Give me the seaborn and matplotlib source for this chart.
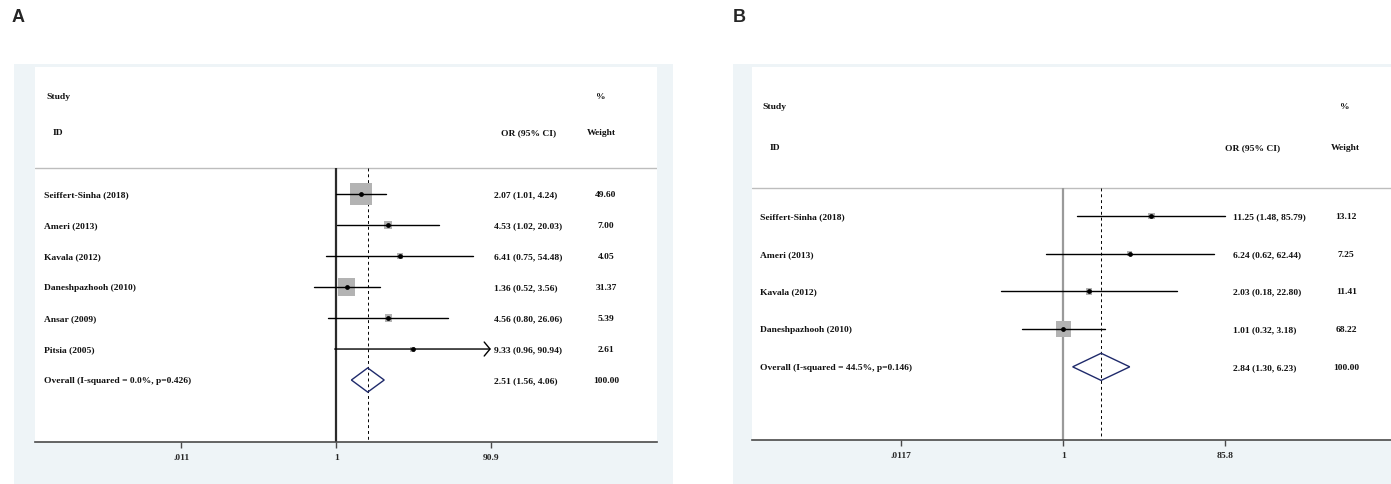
import numpy as np
import pandas as pd
import matplotlib
matplotlib.use("Agg")
import matplotlib.pyplot as plt
import seaborn as sns

# ---------------- data ----------------
# panel A
studies_a = ["Seiffert-Sinha (2018)", "Ameri (2013)", "Kavala (2012)",
             "Daneshpazhooh (2010)", "Ansar (2009)", "Pitsia (2005)"]
or_a = [2.07, 4.53, 6.41, 1.36, 4.56, 9.33]
lo_a = [1.01, 1.02, 0.75, 0.52, 0.80, 0.96]
hi_a = [4.24, 20.03, 54.48, 3.56, 26.06, 90.94]
w_a = [49.60, 7.00, 4.05, 31.37, 5.39, 2.61]
overall_a = [2.51, 1.56, 4.06]
overall_lab_a = "Overall (I-squared = 0.0%, p=0.426)"
ticks_a = [0.011, 1, 90.9]
ticklabs_a = [".011", "1", "90.9"]

# panel B
studies_b = ["Seiffert-Sinha (2018)", "Ameri (2013)", "Kavala (2012)",
             "Daneshpazhooh (2010)"]
or_b = [11.25, 6.24, 2.03, 1.01]
lo_b = [1.48, 0.62, 0.18, 0.32]
hi_b = [85.79, 62.44, 22.80, 3.18]
w_b = [13.12, 7.25, 11.41, 68.22]
overall_b = [2.84, 1.30, 6.23]
overall_lab_b = "Overall (I-squared = 44.5%, p=0.146)"
ticks_b = [0.0117, 1, 85.8]
ticklabs_b = [".0117", "1", "85.8"]

# ---------------- style ----------------
sns.set_theme(style="white")
plt.rcParams['font.family'] = ['Liberation Serif', 'DejaVu Serif']

W, H = 1391, 485
fig = plt.figure(figsize=(W / 100, H / 100), dpi=100)
fig.patch.set_facecolor("white")

BG = "#eef4f7"
FS = 6.8


def px_rect(x0, y0, x1, y1):
    # pixel box (top-left origin) -> figure fraction [l, b, w, h]
    return [x0 / W, 1 - y1 / H, (x1 - x0) / W, (y1 - y0) / H]


def draw_panel(box_bg, box_ax, xlim_dec, ylim, rows, studies, est, lo, hi, wts,
               overall, overall_lab, ticks, ticklabs, size_max, cols, null_col,
               diam_h, arrow_last=False):
    # light graph region behind the white plot region
    bg = fig.add_axes(px_rect(*box_bg), zorder=0)
    bg.set_facecolor(BG)
    bg.set_xticks([])
    bg.set_yticks([])
    for s in bg.spines.values():
        s.set_visible(False)

    ax = fig.add_axes(px_rect(*box_ax), zorder=1)
    ax.set_facecolor("white")
    ax.set_xscale("log")
    ax.set_xlim(10 ** xlim_dec[0], 10 ** xlim_dec[1])
    ax.set_ylim(*ylim)

    hdr_study, hdr_id, sep, r0 = rows
    n = len(studies)
    ys = [r0 + i for i in range(n)]
    y_ov = r0 + n
    bottom = ylim[0]

    df = pd.DataFrame({"study": studies, "est": est, "lo": lo, "hi": hi,
                       "w": wts, "y": ys})

    # separator and reference lines
    ax.axhline(sep, color="#bdbdbd", lw=1.0, zorder=1)
    ax.vlines(1, sep, bottom, color=null_col, lw=1.6, zorder=2)
    ax.vlines(overall[0], sep, bottom, color="black", lw=0.7,
              linestyles=(0, (3, 3)), zorder=2)

    # weight boxes (area ~ weight)
    sns.scatterplot(data=df, x="est", y="y", size="w", sizes=(0, size_max),
                    size_norm=(0, 100), marker="s", color="#b3b3b3",
                    linewidth=0, legend=False, ax=ax, zorder=3)

    # CI lines
    for i, r in df.iterrows():
        if arrow_last and i == n - 1:
            ax.annotate("", xy=(r.hi, r.y), xytext=(r.lo, r.y),
                        arrowprops=dict(arrowstyle="->,head_length=0.3,head_width=0.36",
                                        lw=1.0, color="black",
                                        shrinkA=0, shrinkB=0,
                                        mutation_scale=14), zorder=4)
        else:
            ax.plot([r.lo, r.hi], [r.y, r.y], color="black", lw=1.0, zorder=4)

    sns.scatterplot(data=df, x="est", y="y", s=12, color="black",
                    linewidth=0, legend=False, ax=ax, zorder=5)

    # overall diamond
    e, dl, dh = overall
    ax.fill([dl, e, dh, e, dl], [y_ov, y_ov - diam_h, y_ov, y_ov + diam_h, y_ov],
            facecolor="none", edgecolor="#1f2a6b", lw=1.0, zorder=5)

    # text columns (x in axes fraction, y in data)
    tr = ax.get_yaxis_transform()
    x_lab, x_study, x_id, x_or, x_orh, x_w, x_wh = cols
    kw = dict(transform=tr, fontsize=FS, fontweight="bold", va="center",
              color="#111111")
    ax.text(x_study, hdr_study, "Study", ha="left", **kw)
    ax.text(x_id, hdr_id, "ID", ha="center", **kw)
    ax.text(x_orh, hdr_id, "OR (95% CI)", ha="center", **kw)
    ax.text(x_wh, hdr_study, "%", ha="center", **kw)
    ax.text(x_wh, hdr_id, "Weight", ha="center", **kw)
    for _, r in df.iterrows():
        ax.text(x_lab, r.y, r.study, ha="left", **kw)
        ax.text(x_or, r.y, f"{r.est:.2f} ({r.lo:.2f}, {r.hi:.2f})", ha="left", **kw)
        ax.text(x_w, r.y, f"{r.w:.2f}", ha="center", **kw)
    ax.text(x_lab, y_ov, overall_lab, ha="left", **kw)
    ax.text(x_or, y_ov, f"{e:.2f} ({dl:.2f}, {dh:.2f})", ha="left", **kw)
    ax.text(x_w, y_ov, "100.00", ha="center", **kw)

    # axis
    for s in ["top", "left", "right"]:
        ax.spines[s].set_visible(False)
    ax.spines["bottom"].set_color("#4a4a4a")
    ax.spines["bottom"].set_linewidth(1.2)
    ax.set_yticks([])
    ax.set_xticks(ticks)
    ax.set_xticklabels(ticklabs)
    ax.minorticks_off()
    ax.tick_params(axis="x", direction="out", length=4, width=1,
                   color="#4a4a4a", labelsize=FS, pad=4, bottom=True)
    for t in ax.get_xticklabels():
        t.set_fontweight("bold")
    ax.set_xlabel("")
    ax.set_ylabel("")
    return ax


# panel A
draw_panel(box_bg=(14, 65, 673, 485), box_ax=(35, 68, 657, 443),
           xlim_dec=(-3.81, 4.06), ylim=(8.0, -4.1),
           rows=(-3.16, -2.0, -0.84, 0),
           studies=studies_a, est=or_a, lo=lo_a, hi=hi_a, wts=w_a,
           overall=overall_a, overall_lab=overall_lab_a,
           ticks=ticks_a, ticklabs=ticklabs_a, size_max=498,
           cols=(0.0145, 0.019, 0.037, 0.738, 0.793, 0.918, 0.910),
           null_col="#2b2b2b", diam_h=0.39, arrow_last=True)

# panel B
draw_panel(box_bg=(733, 65, 1391, 485), box_ax=(752, 68, 1391, 441),
           xlim_dec=(-3.71, 3.91), ylim=(5.94, -3.95),
           rows=(-2.92, -1.83, -0.74, 0),
           studies=studies_b, est=or_b, lo=lo_b, hi=hi_b, wts=w_b,
           overall=overall_b, overall_lab=overall_lab_b,
           ticks=ticks_b, ticklabs=ticklabs_b, size_max=187,
           cols=(0.0125, 0.016, 0.036, 0.753, 0.783, 0.930, 0.928),
           null_col="#9a9a9a", diam_h=0.36)

fig.text(12 / W, 1 - 18 / H, "A", family="Liberation Sans", fontweight="bold",
         fontsize=13, ha="left", va="center")
fig.text(733 / W, 1 - 18 / H, "B", family="Liberation Sans", fontweight="bold",
         fontsize=13, ha="left", va="center")

fig.savefig("out.png", dpi=100, facecolor="white")
